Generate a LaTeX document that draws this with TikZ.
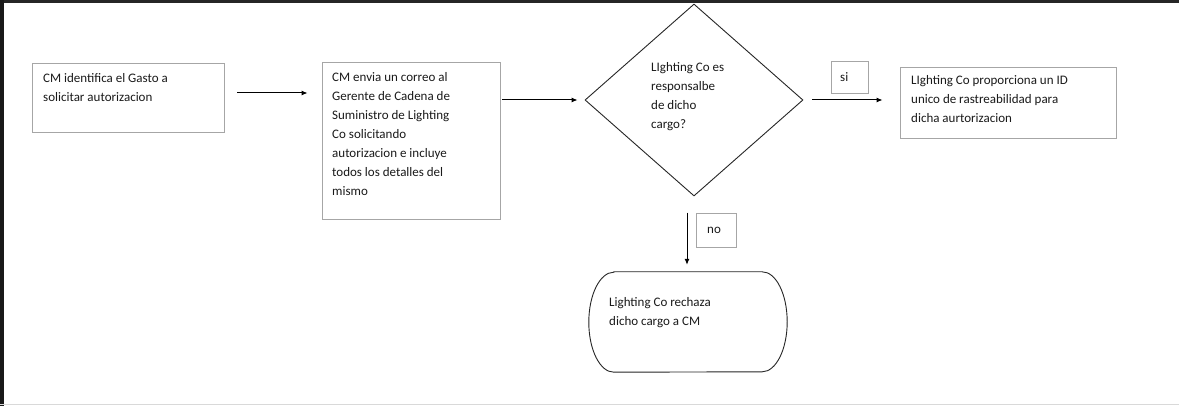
\documentclass[tikz,border=0pt]{standalone}
\usepackage{fontspec}
\setmainfont{Carlito}
\usetikzlibrary{shapes.geometric,arrows.meta,calc}
\definecolor{boxgray}{HTML}{A6A6A6}
\definecolor{ink}{HTML}{1A1A1A}
\newcommand\fl{\rule{0pt}{11pt}}
\begin{document}
\begin{tikzpicture}[x=1pt,y=-1pt,
  every node/.style={font=\fontsize{13}{19}\selectfont, text=ink},
  procbox/.style={draw=boxgray, line width=0.9pt, rectangle, inner sep=0pt},
  txt/.style={inner sep=0pt, anchor=north west, align=left},
  lbl/.style={inner sep=0pt, anchor=base west},
  arr/.style={draw=black, line width=1pt, -{Latex[length=6pt,width=5pt]}}]
\useasboundingbox (0,0) rectangle (1179,406);
\fill[white] (0,0) rectangle (1179,406);
% frame
\fill[black!85] (0,0) rectangle (1179,3.5);
\fill[black!90] (0,0) rectangle (3.5,406);
\draw[line width=1.5pt, black!15] (0,404.5) -- (1179,404.5);
% boxes
\node[procbox, minimum width=192pt, minimum height=69pt] (b1) at (128,97.5) {};
\node[txt] (t1) at (43,71) {\fl CM identifica el Gasto a\\solicitar autorizacion};
\node[procbox, minimum width=178pt, minimum height=157pt] (b2) at (411,140.5) {};
\node[txt] (t2) at (332,70.5) {\fl CM envia un correo al\\Gerente de Cadena de\\Suministro de Lighting\\Co solicitando\\autorizacion e incluye\\todos los detalles del\\mismo};
\node[diamond, draw=black!85, line width=0.9pt, minimum width=218pt, minimum height=192pt, inner sep=0pt] (d) at (694,100) {};
\node[txt] (t3) at (651,60.5) {\fl LIghting Co es\\responsalbe\\de dicho\\cargo?};
\node[procbox, minimum width=37pt, minimum height=32pt] (si) at (849.5,77) {};
\node[lbl] (tsi) at (840,82) {si};
\node[procbox, minimum width=216pt, minimum height=71pt] (b4) at (1008,102.5) {};
\node[txt] (t4) at (911,73) {\fl LIghting Co proporciona un ID\\unico de rastreabilidad para\\dicha aurtorizacion};
\node[procbox, minimum width=40pt, minimum height=34pt] (no) at (716,230) {};
\node[lbl] (tno) at (707,234) {no};
\node[rectangle, inner sep=0pt, minimum width=198pt, minimum height=100pt] (term) at (688,322) {};
\draw[black!85, line width=0.9pt] ([xshift=25pt]term.north west) -- ([xshift=-25pt]term.north east)
  arc[start angle=90, end angle=-90, x radius=25pt, y radius=50pt]
  -- ([xshift=25pt]term.south west)
  arc[start angle=270, end angle=90, x radius=25pt, y radius=50pt] -- cycle;
\node[txt] (t5) at (609,295) {\fl Lighting Co rechaza\\dicho cargo a CM};
% connectors
\draw[arr, shorten <=13pt, shorten >=14pt] ([yshift=4.5pt]b1.east) -- ([yshift=4.5pt]b1.east -| b2.west);
\draw[arr, shorten <=2pt, shorten >=7pt] (b2.east |- d.west) -- (d.west);
\draw[arr, shorten <=9pt, shorten >=17pt] (d.east) -- (d.east -| b4.west);
\draw[arr, shorten >=7pt] ([xshift=-1pt]term.north |- no.north) -- ([xshift=-1pt]term.north);
\end{tikzpicture}
\end{document}
